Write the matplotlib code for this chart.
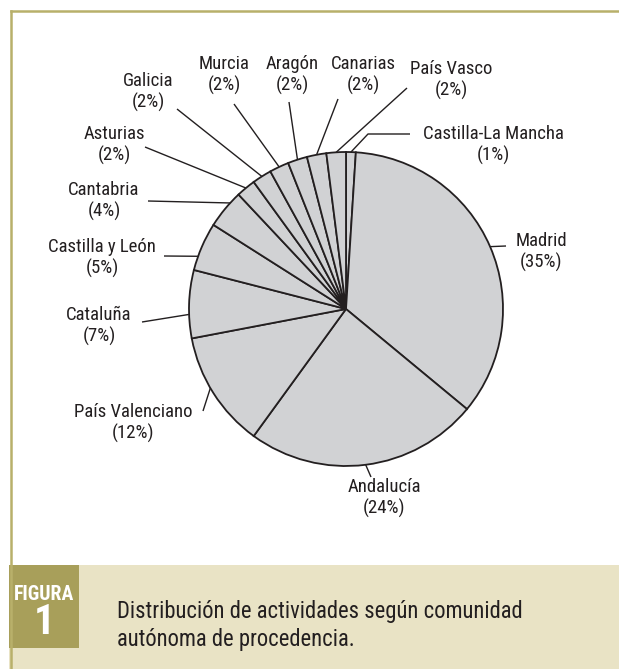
import matplotlib
matplotlib.use('Agg')
import matplotlib.pyplot as plt
import numpy as np
from matplotlib.patches import Rectangle
from matplotlib import font_manager as fm

# ---------------- data ----------------
regions = ["Castilla-La Mancha", "Madrid", "Andalucía", "País Valenciano", "Cataluña",
           "Castilla y León", "Cantabria", "Asturias", "Galicia", "Murcia", "Aragón",
           "Canarias", "País Vasco"]
values = [1, 35, 24, 12, 7, 5, 4, 2, 2, 2, 2, 2, 2]
pct_labels = ["(1%)", "(35%)", "(24%)", "(12%)", "(7%)", "(5%)", "(4%)", "(2%)", "(2%)",
              "(2%)", "(2%)", "(2%)", "(2%)"]

title = "Distribución de actividades según comunidad\nautónoma de procedencia."
fig_label = "FIGURA"
fig_number = "1"

# ---------------- layout (pixels, y down) ----------------
W, H = 619, 669
label_pos = [(493, 145), (541, 252), (384, 498), (133, 423), (99, 326), (102, 258),
             (104, 201), (114, 145), (148, 92), (224, 75), (292, 75), (363, 75), (451, 80)]
leader_out = [[(368, 134), (410, 134)], [(506, 246)], [(371, 477)], [(203, 411)],
              [(142, 322)], [(164, 256)], [(148, 201)], [(145, 147)], [(177, 109)],
              [(234, 104)], [(289, 102)], [(338, 99)], [(407, 88)]]
attach_frac = [0.5, 0.5, 0.5, 0.55, 0.35, 0.29, 0.7, 0.5, 0.5, 0.5, 0.5, 0.5, 0.5]
center_px = (346, 309)
radius_px = 157

TXT = '#231f20'
PIE_FILL = '#d1d2d4'
BORDER = '#b8b06a'
BEIGE = '#e9e3c5'
OLIVE = '#a89f5a'

# ---------------- font choice (condensed if available) ----------------
names = {f.name for f in fm.fontManager.ttflist}
cands = ['Roboto Condensed', 'Liberation Sans Narrow', 'Open Sans Condensed',
         'Arial Narrow', 'Nimbus Sans Narrow', 'Noto Sans Condensed']
FONT_NAME = next((c for c in cands if c in names), None)
STRETCH = 'normal'
if FONT_NAME is None:
    cond = [f for f in fm.fontManager.ttflist
            if (isinstance(f.stretch, str) and 'condensed' in f.stretch)
            or (isinstance(f.stretch, int) and f.stretch < 500)]
    cond = [f for f in cond if f.name in ('DejaVu Sans', 'Open Sans', 'Noto Sans', 'Roboto', 'Inter')]
    if cond:
        FONT_NAME = cond[0].name
        STRETCH = cond[0].stretch
    else:
        FONT_NAME = 'Roboto' if 'Roboto' in names else 'DejaVu Sans'
FONT = [FONT_NAME, 'DejaVu Sans']


def Y(y):
    return H - y


fig = plt.figure(figsize=(W / 100, H / 100), dpi=100)
ax = fig.add_axes([0, 0, 1, 1])
ax.set_xlim(0, W)
ax.set_ylim(0, H)
renderer = fig.canvas.get_renderer()


def fit_size(s, target_w, base=13, **kw):
    t = fig.text(0, 0, s, fontsize=base, family=FONT, fontstretch=STRETCH, **kw)
    w = t.get_window_extent(renderer).width
    t.remove()
    return base * target_w / w


LABEL_FS = min(13.5, fit_size("Castilla-La Mancha", 149))
TITLE_FS = min(17, fit_size("Distribución de actividades según comunidad", 405))
FIG_FS = min(15, fit_size("FIGURA", 60, fontweight='bold'))

cx, cy = center_px[0], Y(center_px[1])
wedges, _ = ax.pie(values, startangle=90, counterclock=False, center=(cx, cy),
                   radius=radius_px, colors=[PIE_FILL] * len(values),
                   wedgeprops=dict(edgecolor=TXT, linewidth=1.3))

for w, name, pct, (lx, ly), outs, fr in zip(wedges, regions, pct_labels, label_pos,
                                             leader_out, attach_frac):
    a = np.deg2rad(w.theta2 - fr * (w.theta2 - w.theta1))
    rx, ry = cx + radius_px * np.cos(a), cy + radius_px * np.sin(a)
    xs = [rx] + [p[0] for p in outs]
    ys = [ry] + [Y(p[1]) for p in outs]
    ax.plot(xs, ys, color=TXT, lw=1.0, solid_capstyle='butt', zorder=3)
    ax.text(lx, Y(ly), name + "\n" + pct, ha='center', va='center', multialignment='center',
            fontsize=LABEL_FS, family=FONT, fontstretch=STRETCH, color=TXT,
            linespacing=1.15, zorder=4)

# frame
ax.add_patch(Rectangle((9, 0), W - 9, Y(565), facecolor=BEIGE, edgecolor='none', zorder=1))
ax.add_patch(Rectangle((9, Y(648)), 70, 648 - 565, facecolor=OLIVE, edgecolor='none', zorder=2))
ax.plot([10.5, 10.5], [0, Y(10.5)], color=BORDER, lw=1.8, solid_capstyle='projecting', zorder=2)
ax.plot([10.5, W], [Y(10.5), Y(10.5)], color=BORDER, lw=1.8, solid_capstyle='projecting', zorder=2)

ax.text(44, Y(595), fig_label, ha='center', va='center', fontsize=FIG_FS, fontweight='bold',
        family=FONT, fontstretch=STRETCH, color='white', zorder=3)
ax.text(44, Y(622), fig_number, ha='center', va='center', fontsize=30, fontweight='bold',
        family=FONT, fontstretch=STRETCH, color='white', zorder=3)
ax.text(117, Y(646), title, ha='left', va='baseline', fontsize=TITLE_FS, family=FONT,
        fontstretch=STRETCH, color=TXT, linespacing=1.3, zorder=3)

ax.set_xlim(0, W)
ax.set_ylim(0, H)
ax.set_aspect('auto')
ax.axis('off')

fig.savefig('out.png', dpi=100)
